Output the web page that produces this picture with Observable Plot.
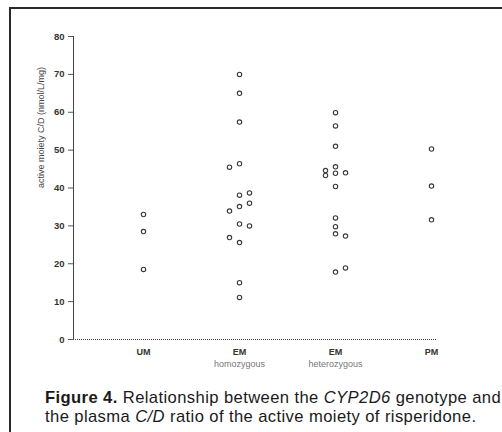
<!DOCTYPE html>
<html>
<head>
<meta charset="utf-8">
<script src="https://cdn.jsdelivr.net/npm/d3@7"></script>
<script src="https://cdn.jsdelivr.net/npm/@observablehq/plot@0.6"></script>
<style>
  html, body { margin: 0; padding: 0; background: #fff; }
  #wrap { position: relative; width: 502px; height: 432px; overflow: hidden; background: #fff; }
  #border { position: absolute; left: 9px; top: 7px; width: 600px; height: 600px; border-left: 2px solid #2a2a2a; border-top: 2px solid #2a2a2a; }
  #chart { position: absolute; left: 0; top: 0; }
  #caption { position: absolute; left: 45px; top: 388px; font-family: "Liberation Sans", Arial, sans-serif; font-size: 16.6px; letter-spacing: 0.4px; line-height: 19px; color: #1a1a1a; white-space: nowrap; }
</style>
</head>
<body>
<div id="wrap">
  <div id="border"></div>
  <div id="chart"></div>
  <div id="caption"><b>Figure 4.</b> Relationship between the <i>CYP2D6</i> genotype and<br>the plasma <i>C/D</i> ratio of the active moiety of risperidone.</div>
</div>
<script>
// Categories and labels
const categories = ["UM", "EM-hom", "EM-het", "PM"];
const tickLabels = ["UM", "EM", "EM", "PM"];
const subLabels = ["", "homozygous", "heterozygous", ""];
const yTicks = [0, 10, 20, 30, 40, 50, 60, 70, 80];
const yLabel = "active moiety C/D (nmol/L/mg)";

// Values (active moiety C/D, nmol/L/mg) per genotype and jitter column
const umCenter = [33, 28.5, 18.5];
const emHomLeft = [45.5, 33.9, 26.9];
const emHomCenter = [70, 65, 57.4, 46.4, 38.1, 35.1, 30.5, 25.6, 15, 11.1];
const emHomRight = [38.7, 36, 30];
const emHetLeft = [44.6, 43.3];
const emHetCenter = [59.9, 56.4, 51, 45.6, 43.9, 40.4, 32.1, 29.8, 27.9, 17.8];
const emHetRight = [44, 27.3, 18.9];
const pmCenter = [50.3, 40.5, 31.6];

const rows = (cat, side, vals) => vals.map(v => ({cat, side, v}));
const points = [
  ...rows("UM", "center", umCenter),
  ...rows("EM-hom", "left", emHomLeft),
  ...rows("EM-hom", "center", emHomCenter),
  ...rows("EM-hom", "right", emHomRight),
  ...rows("EM-het", "left", emHetLeft),
  ...rows("EM-het", "center", emHetCenter),
  ...rows("EM-het", "right", emHetRight),
  ...rows("PM", "center", pmCenter)
];
const subs = categories.map((c, i) => ({cat: c, text: subLabels[i]}));

const dotStyle = {x: "cat", y: "v", r: 2.2, stroke: "#3a3a3a", strokeWidth: 1.1, fill: "none"};

const chart = Plot.plot({
  width: 502,
  height: 375,
  marginLeft: 73,
  marginRight: 65,
  marginTop: 36,
  marginBottom: 36,
  style: {fontFamily: "'Liberation Sans', Arial, sans-serif", background: "transparent", color: "#333"},
  x: {domain: categories, range: [143, 431], padding: 0, axis: null},
  y: {domain: [0, 80], axis: null},
  marks: [
    Plot.frame({anchor: "left", stroke: "#444", strokeDasharray: "1,1"}),
    Plot.ruleY([0], {stroke: "#444", strokeDasharray: "1,1"}),
    Plot.axisY({ticks: yTicks, tickSize: 5, tickPadding: 4, fontSize: 9.5, fontWeight: "bold", stroke: "#555", fill: "#333", label: null}),
    Plot.axisX({tickSize: 0, tickPadding: 9, fontSize: 9, fontWeight: "bold", fill: "#333", label: null, tickFormat: d => tickLabels[categories.indexOf(d)]}),
    Plot.text(subs, {x: "cat", frameAnchor: "bottom", dy: 27, text: "text", fontSize: 9, fill: "#777"}),
    Plot.text([yLabel], {frameAnchor: "left", dx: -32, rotate: -90, fontSize: 9, fill: "#444", text: d => d}),
    Plot.dot(points.filter(d => d.side === "left"), {...dotStyle, dx: -10}),
    Plot.dot(points.filter(d => d.side === "center"), dotStyle),
    Plot.dot(points.filter(d => d.side === "right"), {...dotStyle, dx: 10})
  ]
});
document.getElementById("chart").appendChild(chart);
</script>
</body>
</html>
